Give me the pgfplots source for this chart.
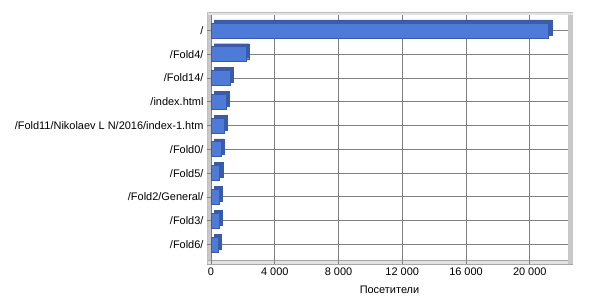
\documentclass[border=0pt]{standalone}
\usepackage{pgfplots}
\pgfplotsset{compat=1.18}
\usepackage{fontspec}
\setmainfont{Liberation Sans}
\definecolor{barfront}{HTML}{4F7BD8}
\definecolor{baredge}{HTML}{3A5AAE}
\definecolor{barside}{HTML}{3B5BA6}
\definecolor{gridgray}{HTML}{808080}
\definecolor{wallgray}{HTML}{C8C8C8}
\definecolor{floorgray}{HTML}{E2E2E2}
\begin{document}
\begin{tikzpicture}[x=1bp,y=1bp]
\useasboundingbox (0,0) rectangle (600,300);
% 3D frame decoration (walls and floor)
\fill[wallgray] (207,36) rectangle (211,288);
\fill[floorgray] (207,36) rectangle (572,40);
\draw[gray!70, line width=0.8bp] (207,36) rectangle (572,40);
\fill[wallgray] (568,36) rectangle (573,288);
\fill[floorgray] (207,285) rectangle (573,288);
\draw[gray!50, line width=0.8bp] (207,36) -- (207,288) -- (573,288);
\begin{axis}[
  at={(211bp,40bp)}, anchor=south west,
  scale only axis, width=357bp, height=245bp,
  xmin=0, xmax=22400, ymin=-0.65, ymax=9.65,
  y dir=reverse,
  xbar, bar width=15bp, bar shift=0pt,
  scaled x ticks=false,
  ytick={0,...,9},
  yticklabels={/,/Fold4/,/Fold14/,/index.html,/Fold11/Nikolaev L N/2016/index-1.htm,/Fold0/,/Fold5/,/Fold2/General/,/Fold3/,/Fold6/},
  xtick={0,4000,8000,12000,16000,20000},
  xticklabels={0,4 000,8 000,12 000,16 000,20 000},
  xmajorgrids, ymajorgrids,
  grid style={draw=gridgray, line width=1bp},
  axis line style={draw=none},
  tick style={draw=gridgray, line width=0.8bp},
  major tick length=4bp,
  tick align=outside,
  xtick pos=bottom, ytick pos=left,
  ticklabel style={font=\fontsize{11}{13}\selectfont, text=black},
  yticklabel style={xshift=0bp},
  xlabel={Посетители},
  xlabel style={font=\fontsize{11}{13}\selectfont, at={(axis description cs:0.5,-0.122)}, anchor=center},
]
\addplot[fill=barside, draw=barside, xshift=3bp, yshift=3bp] coordinates {
 (21200,0) (2200,1) (1200,2) (950,3) (820,4) (630,5) (550,6) (500,7) (500,8) (470,9)};
\addplot[fill=barfront, draw=baredge, line width=0.8bp] coordinates {
 (21200,0) (2200,1) (1200,2) (950,3) (820,4) (630,5) (550,6) (500,7) (500,8) (470,9)};
\end{axis}
\end{tikzpicture}
\end{document}
